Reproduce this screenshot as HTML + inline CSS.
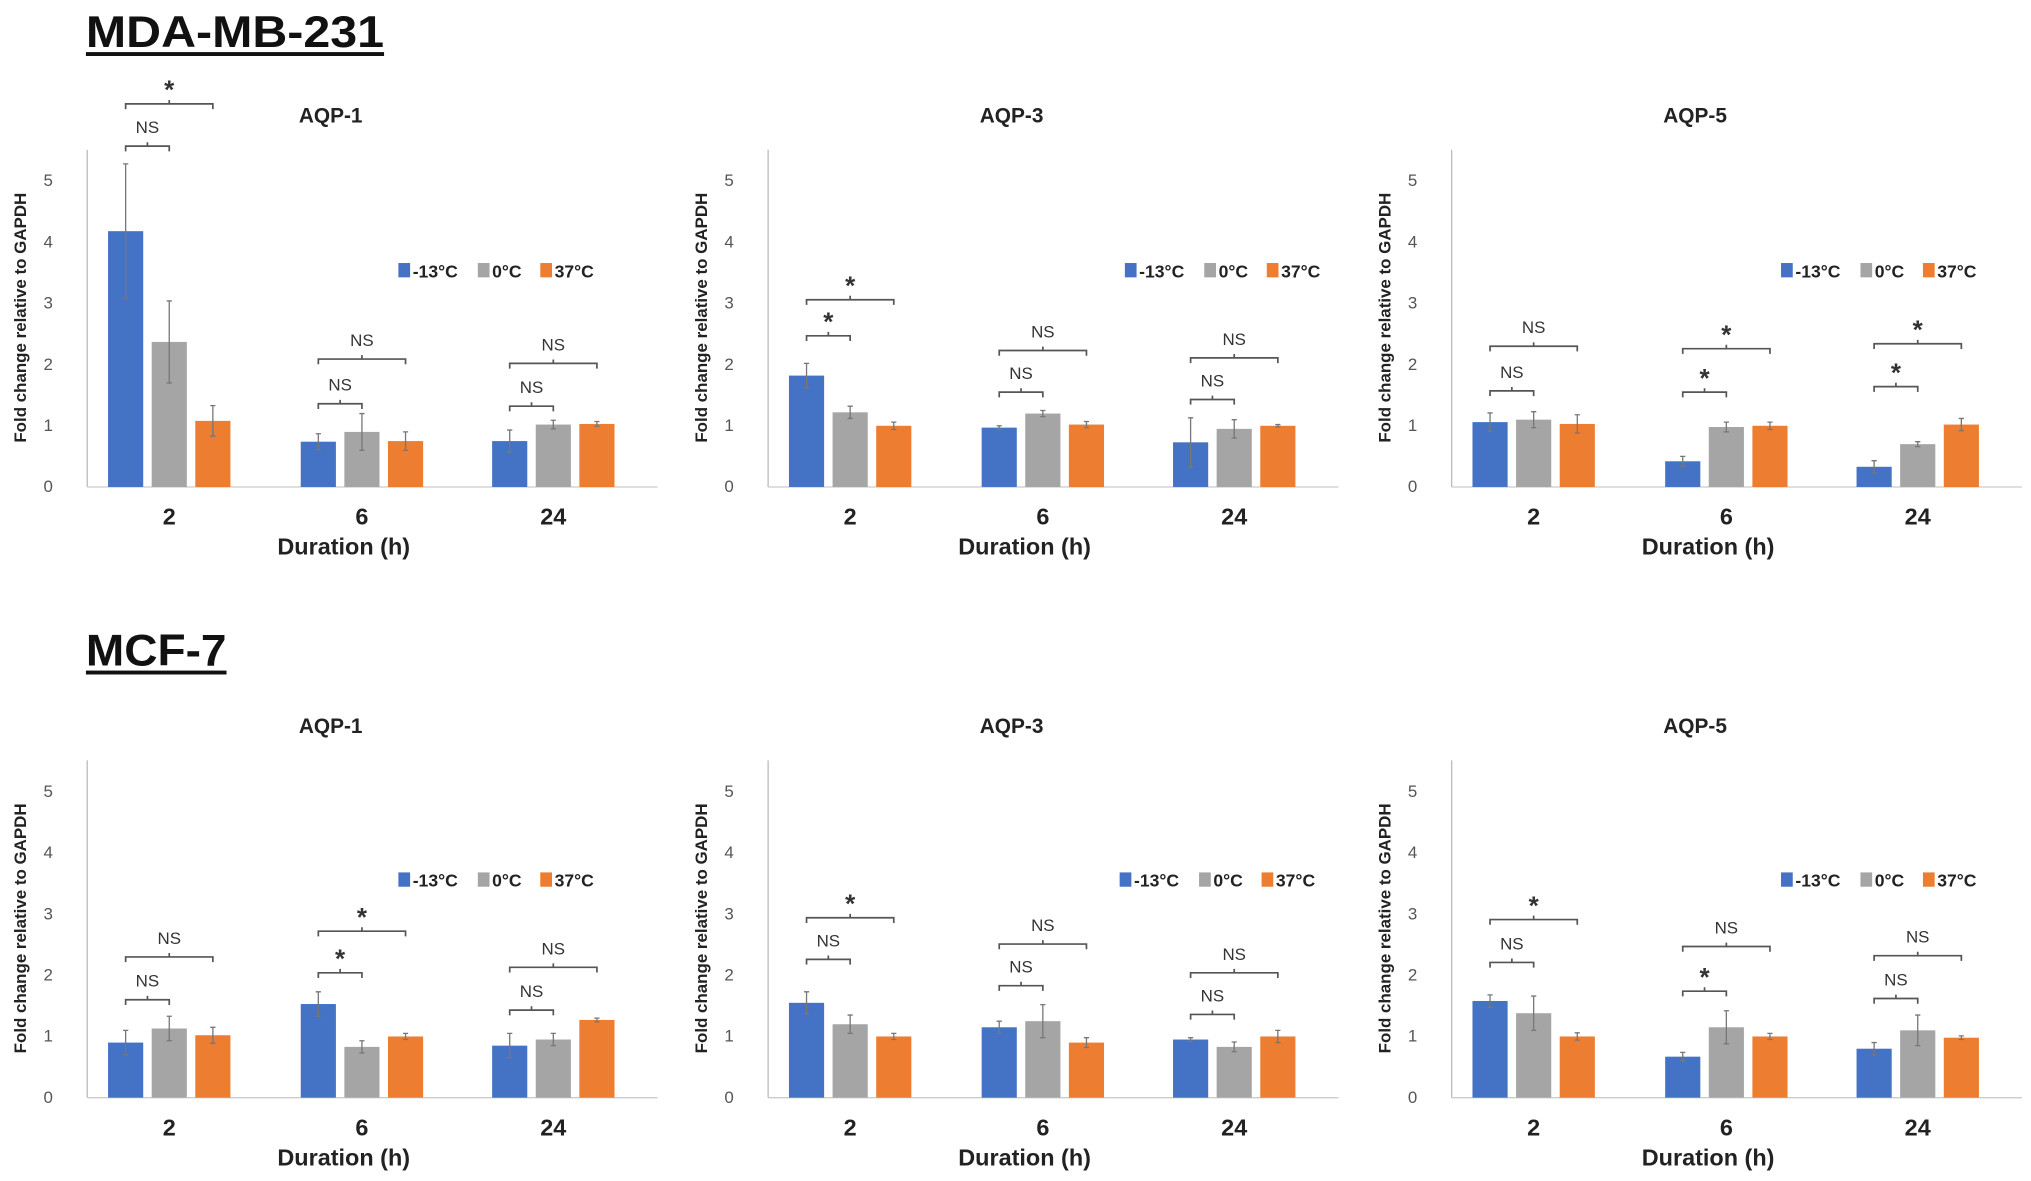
<!DOCTYPE html>
<html><head><meta charset="utf-8"><style>
html,body{margin:0;padding:0;background:#fff;}
svg{display:block;font-family:"Liberation Sans",Arial,sans-serif;}
</style></head><body>
<svg id="fig" width="2031" height="1181" viewBox="0 0 1560 907" preserveAspectRatio="none" xmlns="http://www.w3.org/2000/svg">
<text x="66" y="36" font-size="34" font-weight="bold" fill="#111" textLength="229" lengthAdjust="spacingAndGlyphs">MDA-MB-231</text>
<rect x="66" y="40" width="229" height="3" fill="#111"/>
<text x="66" y="511" font-size="34" font-weight="bold" fill="#111" textLength="108" lengthAdjust="spacingAndGlyphs">MCF-7</text>
<rect x="66" y="515" width="108" height="3" fill="#111"/>
</svg>
<script>
const categories = ["2","6","24"];
const seriesNames = ["-13°C","0°C","37°C"];
const yTicks = [0,1,2,3,4,5];
const panelTitles = ["AQP-1","AQP-3","AQP-5","AQP-1","AQP-3","AQP-5"];
const vals1 = [[4.18,2.37,1.08],[0.74,0.90,0.75],[0.75,1.02,1.03]];
const errs1 = [[1.1,0.67,0.25],[0.13,0.3,0.15],[0.18,0.07,0.04]];
const vals2 = [[1.82,1.22,1.0],[0.97,1.2,1.02],[0.73,0.95,1.0]];
const errs2 = [[0.2,0.1,0.06],[0.03,0.05,0.05],[0.4,0.15,0.02]];
const vals3 = [[1.06,1.1,1.03],[0.42,0.98,1.0],[0.33,0.7,1.02]];
const errs3 = [[0.15,0.13,0.15],[0.08,0.08,0.06],[0.1,0.04,0.1]];
const vals4 = [[0.9,1.13,1.02],[1.53,0.83,1.0],[0.85,0.95,1.27]];
const errs4 = [[0.2,0.2,0.13],[0.2,0.1,0.05],[0.2,0.1,0.03]];
const vals5 = [[1.55,1.2,1.0],[1.15,1.25,0.9],[0.95,0.83,1.0]];
const errs5 = [[0.18,0.15,0.05],[0.1,0.27,0.08],[0.03,0.08,0.1]];
const vals6 = [[1.58,1.38,1.0],[0.67,1.15,1.0],[0.8,1.1,0.98]];
const errs6 = [[0.1,0.28,0.06],[0.07,0.27,0.05],[0.1,0.25,0.03]];
const br1 = [[5.57,"NS",6.26,"*"],[1.36,"NS",2.09,"NS"],[1.32,"NS",2.02,"NS"]];
const br2 = [[2.47,"*",3.06,"*"],[1.55,"NS",2.23,"NS"],[1.43,"NS",2.11,"NS"]];
const br3 = [[1.57,"NS",2.30,"NS"],[1.55,"*",2.26,"*"],[1.64,"*",2.34,"*"]];
const br4 = [[1.60,"NS",2.30,"NS"],[2.04,"*",2.72,"*"],[1.43,"NS",2.13,"NS"]];
const br5 = [[2.26,"NS",2.94,"*"],[1.83,"NS",2.51,"NS"],[1.36,"NS",2.04,"NS"]];
const br6 = [[2.21,"NS",2.91,"*"],[1.74,"*",2.47,"NS"],[1.62,"NS",2.32,"NS"]];

const allVals=[vals1,vals2,vals3,vals4,vals5,vals6];
const allErrs=[errs1,errs2,errs3,errs4,errs5,errs6];
const allBr=[br1,br2,br3,br4,br5,br6];
const colors=["#4472c4","#a5a5a5","#ed7d31"];
const svg=document.getElementById('fig');
const NS='http://www.w3.org/2000/svg';
function mk(tag,attrs,parent){const e=document.createElementNS(NS,tag);for(const k in attrs)e.setAttribute(k,attrs[k]);(parent||svg).appendChild(e);return e;}
const axisX=[67,590,1115];
const zeroY=[374,843];
const unit=47;
const catOff=[63,211,358];
const legOff=[0,61,109];
for(let p=0;p<6;p++){
  const col=p%3,row=Math.floor(p/3);
  const ax=axisX[col],z=zeroY[row];
  const g=mk('g',{});
  
  
  const yS=v=>z-v*unit;
  const xC=i=>ax+catOff[i];
  const t=mk('text',{x:ax+187,y:z-280,'font-size':16,'font-weight':'bold','text-anchor':'middle',fill:'#222'},g);
  t.textContent=panelTitles[p];
  
  
  const ya=mk('line',{x1:ax,x2:ax,y1:z-259,y2:z,stroke:'#bbb','stroke-width':1},g);
  
  
  const xa=mk('line',{x1:ax,x2:ax+438,y1:z,y2:z,stroke:'#ccc','stroke-width':1},g);
  
  
  yTicks.forEach(v=>{
    const tl=mk('text',{x:ax-30,y:yS(v)+4,'font-size':13,'text-anchor':'middle',fill:'#555'},g);
    tl.textContent=v;
    
    
  });
  const yt=mk('text',{transform:`translate(${ax-47},${z-130}) rotate(-90)`,'font-size':13,'font-weight':'bold','text-anchor':'middle',fill:'#222'},g);
  yt.textContent='Fold change relative to GAPDH';
  
  
  const xt=mk('text',{x:ax+197,y:z+52,'font-size':18,'font-weight':'bold','text-anchor':'middle',fill:'#222'},g);
  xt.textContent='Duration (h)';
  
  
  categories.forEach((c,i)=>{
    const cl=mk('text',{x:xC(i),y:z+29,'font-size':18,'font-weight':'bold','text-anchor':'middle',fill:'#222'},g);
    cl.textContent=c;
    
    
    const bx=[];
    for(let s=0;s<3;s++){
      const v=allVals[p][i][s],e=allErrs[p][i][s];
      const cx=xC(i)+(s-1)*33.5; bx.push(cx);
      const b=mk('rect',{x:cx-13.5,y:yS(v),width:27,height:v*unit,fill:colors[s]},g);
      
      
      const el=mk('path',{d:`M${cx},${yS(v+e)}V${yS(Math.max(0,v-e))}M${cx-2},${yS(v+e)}H${cx+2}M${cx-2},${yS(Math.max(0,v-e))}H${cx+2}`,stroke:'#777','stroke-width':1,fill:'none'},g);
      
      
    }
    const b=allBr[p][i];
    [[b[0],b[1],bx[0],bx[1]],[b[2],b[3],bx[0],bx[2]]].forEach(([yv,lab,x1,x2])=>{
      const y=yS(yv);
      const pth=mk('path',{d:`M${x1},${y+4}V${y}H${x2}V${y+4}M${(x1+x2)/2},${y}V${y-3}`,stroke:'#555','stroke-width':1.3,fill:'none'},g);
      
      
      const lt=mk('text',{x:(x1+x2)/2,y:lab==='*'?y-4:y-10,'font-size':lab==='*'?20:13,'font-weight':lab==='*'?'bold':'normal','text-anchor':'middle',fill:'#333'},g);
      lt.textContent=lab;
      
      
    });
  });
  const legX=[306,864,1368][col] + (row&&col==1?-4:0);
  const ly=row?676:208;
  const lg=mk('g',{},g);
  
  
  seriesNames.forEach((n,s)=>{
    const lx=legX+legOff[s];
    const r=mk('rect',{x:lx,y:ly-6,width:9,height:11,fill:colors[s]},lg);
    
    
    const tx=mk('text',{x:lx+11,y:ly+5,'font-size':13.5,'font-weight':'bold',fill:'#222'},lg);
    tx.textContent=n;
    
    
  });
}
</script>
</body></html>
